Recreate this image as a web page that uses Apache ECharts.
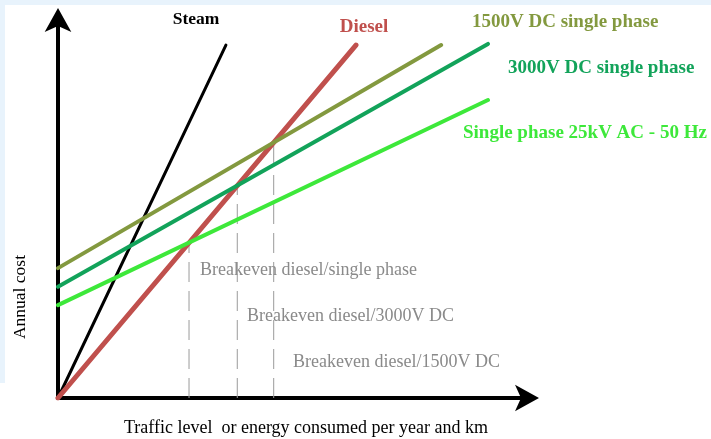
<!DOCTYPE html>
<html lang="en" style="height: 100%">
<head>
  <meta charset="utf-8" />
  <title>Breakeven traffic levels</title>
</head>
<body style="height: 100%; margin: 0; background: #fff">
  <div id="container" style="width: 711px; height: 439px"></div>

  <script src="https://cdn.jsdelivr.net/npm/echarts@6/dist/echarts.min.js"></script>

  <script>
    // line end points [x, y] (axis units 0..100)
    const steam = [[0, 0], [35.5, 92.4]];
    const diesel = [[0, 0], [63.0, 92.4]];
    const dc1500 = [[0, 34.0], [81.0, 92.4]];
    const dc3000 = [[0, 29.1], [90.9, 92.7]];
    const ac25kv = [[0, 24.3], [90.9, 78.0]];

    // breakeven points: traffic level and cost where diesel crosses each line
    const breakevenX = [27.7, 37.9, 45.6];
    const breakevenY = [40.6, 55.6, 66.9];

    const serif = '"Liberation Serif", "DejaVu Serif", serif';

    // dashed verticals built from the breakeven arrays
    const dashSeries = breakevenX.map(function (x, i) {
      return {
        type: 'line',
        data: [[x, 0], [x, breakevenY[i]]],
        symbol: 'none',
        silent: true,
        z: 1,
        lineStyle: { color: '#9a9a9a', width: 1, type: [20, 9] }
      };
    });

    function lineSeries(name, data, color, width) {
      return {
        name: name,
        type: 'line',
        data: data,
        symbol: 'none',
        z: 3,
        lineStyle: { color: color, width: width, cap: 'round' }
      };
    }

    var myChart = echarts.init(document.getElementById('container'));

    var axisCommon = {
      type: 'value',
      min: 0,
      max: 100,
      axisTick: { show: false },
      axisLabel: { show: false },
      splitLine: { show: false },
      axisLine: {
        show: true,
        onZero: false,
        symbol: ['none', 'arrow'],
        symbolSize: [20, 24],
        symbolOffset: [0, 8],
        lineStyle: { color: '#000', width: 4 }
      }
    };

    function label(text, x, y, color, size, weight, align) {
      return {
        type: 'text',
        x: x,
        y: y,
        style: {
          text: text,
          fill: color,
          font: weight + ' ' + size + 'px ' + serif,
          textAlign: align || 'left',
          textVerticalAlign: 'middle'
        }
      };
    }

    var option = {
      animation: false,
      grid: { left: 58, top: 16, right: 180, bottom: 41 },
      xAxis: axisCommon,
      yAxis: axisCommon,
      series: dashSeries.concat([
        lineSeries('Steam', steam, '#000000', 3),
        lineSeries('Diesel', diesel, '#c0504d', 5),
        lineSeries('1500V DC single phase', dc1500, '#83993f', 4),
        lineSeries('3000V DC single phase', dc3000, '#12a35a', 4),
        lineSeries('Single phase 25kV AC - 50 Hz', ac25kv, '#3de83a', 4)
      ]),
      graphic: [
        { type: 'rect', shape: { x: 0, y: 0, width: 711, height: 5 }, style: { fill: '#e8f3fc' } },
        { type: 'rect', shape: { x: 0, y: 0, width: 5, height: 383 }, style: { fill: '#e8f3fc' } },
        label('Steam', 196, 19, '#000', 17.5, 'bold', 'center'),
        label('Diesel', 364, 27, '#c0504d', 19, 'bold', 'center'),
        label('1500V DC single phase', 472, 22, '#83993f', 19, 'bold'),
        label('3000V DC single phase', 508, 68, '#12a35a', 19, 'bold'),
        label('Single phase 25kV AC - 50 Hz', 463, 133, '#3de83a', 19, 'bold'),
        label('Breakeven diesel/single phase', 200, 270, '#8a8a8a', 18, 'normal'),
        label('Breakeven diesel/3000V DC', 247, 316, '#8a8a8a', 18, 'normal'),
        label('Breakeven diesel/1500V DC', 293, 362, '#8a8a8a', 18, 'normal'),
        label('Traffic level  or energy consumed per year and km', 124, 428, '#000', 18, 'normal'),
        {
          type: 'text',
          x: 20,
          y: 297,
          rotation: Math.PI / 2,
          style: {
            text: 'Annual cost',
            fill: '#000',
            font: 'normal 17.5px ' + serif,
            textAlign: 'center',
            textVerticalAlign: 'middle'
          }
        }
      ]
    };

    myChart.setOption(option);
  </script>
</body>
</html>
